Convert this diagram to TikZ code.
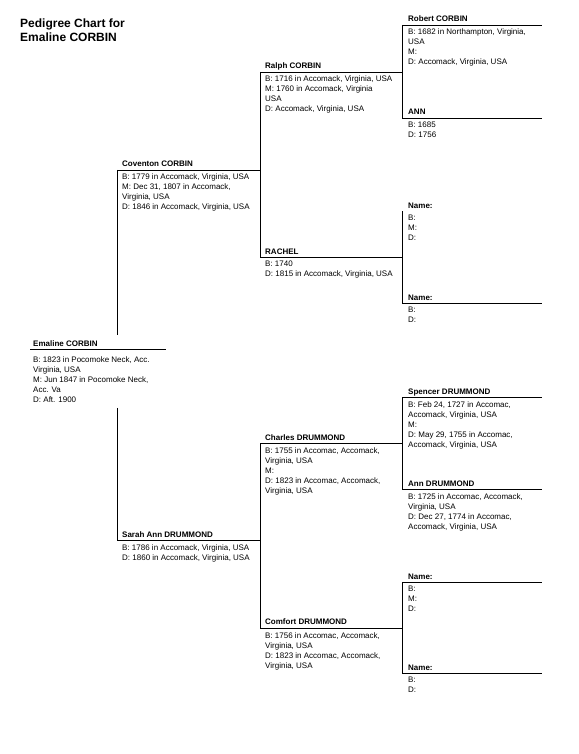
\documentclass[tikz,border=0pt]{standalone}
\usepackage{fontspec}
\setmainfont{Liberation Sans}
\tikzset{
  nm/.style={anchor=base west, inner sep=0pt, font=\fontsize{8}{10}\selectfont\bfseries},
  dt/.style={anchor=north west, inner sep=0pt, align=left, font=\fontsize{8}{10}\selectfont},
  ttl/.style={anchor=base west, inner sep=0pt, align=left, font=\fontsize{12}{14}\selectfont\bfseries},
  ln/.style={line width=0.8pt}
}
\begin{document}
\begin{tikzpicture}[x=1pt,y=-1pt]
      \useasboundingbox (0,0) rectangle (578,754);
      \node[ttl] (title) at (20,42) {Pedigree Chart for\\Emaline CORBIN};

      % line starts
      \coordinate (emaline) at (30,349);
      \coordinate (emaline-e) at (166,349);
      \coordinate (coventon) at (117,170);
      \coordinate (sarah) at (117,540);
      \coordinate (ralph) at (260,72);
      \coordinate (rachel) at (260,257);
      \coordinate (charles) at (260,443);
      \coordinate (comfort) at (260,628);
      \coordinate (robert) at (402,25);
      \coordinate (ann) at (402,118);
      \coordinate (unkf) at (402,211);
      \coordinate (unkm) at (402,303);
      \coordinate (spencer) at (402,397);
      \coordinate (annd) at (402,489);
      \coordinate (unkf2) at (402,582);
      \coordinate (unkm2) at (402,673);
      \coordinate (edge) at (542,0);

      % generation 1
      \node[nm, outer ysep=5pt] (emaline-n) at (33,346) {Emaline CORBIN};
      \node[dt, outer ysep=5pt] (emaline-d) at (33,352) {B: 1823 in Pocomoke Neck, Acc.\\Virginia, USA\\M: Jun 1847 in Pocomoke Neck,\\Acc. Va\\D: Aft. 1900};
      \draw[ln] (emaline) -- (emaline-e);
      \draw[ln] (coventon) -- (coventon |- emaline-n.north);
      \draw[ln] (sarah |- emaline-d.south) -- (sarah);

      % generation 2
      \node[nm] (coventon-n) at (122,167) {Coventon CORBIN};
      \node[dt] (coventon-d) at (122,174) {B: 1779 in Accomack, Virginia, USA\\M: Dec 31, 1807 in Accomack,\\Virginia, USA\\D: 1846 in Accomack, Virginia, USA};
      \draw[ln] (coventon) -- (coventon -| ralph);
      \draw[ln] (ralph) -- (rachel);

      \node[nm] (sarah-n) at (122,537) {Sarah Ann DRUMMOND};
      \node[dt] (sarah-d) at (122,544) {B: 1786 in Accomack, Virginia, USA\\D: 1860 in Accomack, Virginia, USA};
      \draw[ln] (sarah) -- (sarah -| charles);
      \draw[ln] (charles) -- (comfort);

      % generation 3
      \node[nm] (ralph-n) at (265,69) {Ralph CORBIN};
      \node[dt] (ralph-d) at (265,76) {B: 1716 in Accomack, Virginia, USA\\M: 1760 in Accomack, Virginia\\USA\\D: Accomack, Virginia, USA};
      \draw[ln] (ralph) -- (ralph -| robert);
      \draw[ln] (robert) -- (ann);

      \node[nm] (rachel-n) at (265,254) {RACHEL};
      \node[dt] (rachel-d) at (265,261) {B: 1740\\D: 1815 in Accomack, Virginia, USA};
      \draw[ln] (rachel) -- (rachel -| unkf);
      \draw[ln] (unkf) -- (unkm);

      \node[nm] (charles-n) at (265,440) {Charles DRUMMOND};
      \node[dt] (charles-d) at (265,447) {B: 1755 in Accomac, Accomack,\\Virginia, USA\\M:\\D: 1823 in Accomac, Accomack,\\Virginia, USA};
      \draw[ln] (charles) -- (charles -| spencer);
      \draw[ln] (spencer) -- (annd);

      \node[nm] (comfort-n) at (265,624) {Comfort DRUMMOND};
      \node[dt] (comfort-d) at (265,632) {B: 1756 in Accomac, Accomack,\\Virginia, USA\\D: 1823 in Accomac, Accomack,\\Virginia, USA};
      \draw[ln] (comfort) -- (comfort -| unkf2);
      \draw[ln] (unkf2) -- (unkm2);

      % generation 4
      \node[nm] (robert-n) at (408,22) {Robert CORBIN};
      \node[dt] (robert-d) at (408,29) {B: 1682 in Northampton, Virginia,\\USA\\M:\\D: Accomack, Virginia, USA};
      \draw[ln] (robert) -- (robert -| edge);

      \node[nm] (ann-n) at (408,115) {ANN};
      \node[dt] (ann-d) at (408,122) {B: 1685\\D: 1756};
      \draw[ln] (ann) -- (ann -| edge);

      \node[nm] (unkf-n) at (408,208) {Name:};
      \node[dt] (unkf-d) at (408,215) {B:\\M:\\D:};

      \node[nm] (unkm-n) at (408,300) {Name:};
      \node[dt] (unkm-d) at (408,307) {B:\\D:};
      \draw[ln] (unkm) -- (unkm -| edge);

      \node[nm] (spencer-n) at (408,394) {Spencer DRUMMOND};
      \node[dt] (spencer-d) at (408,401) {B: Feb 24, 1727 in Accomac,\\Accomack, Virginia, USA\\M:\\D: May 29, 1755 in Accomac,\\Accomack, Virginia, USA};
      \draw[ln] (spencer) -- (spencer -| edge);

      \node[nm] (annd-n) at (408,486) {Ann DRUMMOND};
      \node[dt] (annd-d) at (408,493) {B: 1725 in Accomac, Accomack,\\Virginia, USA\\D: Dec 27, 1774 in Accomac,\\Accomack, Virginia, USA};
      \draw[ln] (annd) -- (annd -| edge);

      \node[nm] (unkf2-n) at (408,579) {Name:};
      \node[dt] (unkf2-d) at (408,586) {B:\\M:\\D:};
      \draw[ln] (unkf2) -- (unkf2 -| edge);

      \node[nm] (unkm2-n) at (408,670) {Name:};
      \node[dt] (unkm2-d) at (408,677) {B:\\D:};
      \draw[ln] (unkm2) -- (unkm2 -| edge);
    \end{tikzpicture}
\end{document}
